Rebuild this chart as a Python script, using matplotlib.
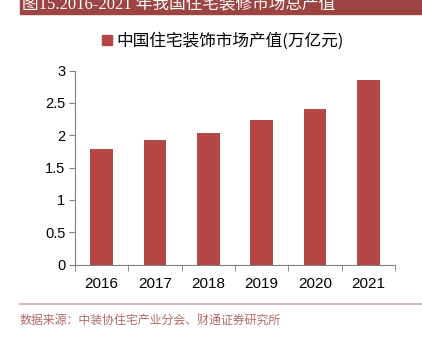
import matplotlib
matplotlib.use("Agg")
import matplotlib.pyplot as plt
from matplotlib.patches import Rectangle
from matplotlib.lines import Line2D

years = ["2016", "2017", "2018", "2019", "2020", "2021"]
output_value = [1.78, 1.92, 2.04, 2.24, 2.41, 2.86]
yticks = [0, 0.5, 1, 1.5, 2, 2.5, 3]
ytick_labels = ["0", "0.5", "1", "1.5", "2", "2.5", "3"]

title_text = "图15.2016-2021 年我国住宅装修市场总产值"
legend_text = "中国住宅装饰市场产值(万亿元)"
source_text = "数据来源：中装协住宅产业分会、财通证券研究所"

BAR_COLOR = "#b34745"
TITLE_BG = "#9c4441"
cjk = ["Noto Sans CJK SC", "DejaVu Sans"]

fig = plt.figure(figsize=(4.22, 3.37), dpi=100)
W, H = 422, 337

# title bar (top cut off as in the source)
fig.patches.append(Rectangle((20 / W, 1 - 14 / H), (W - 20) / W, 14 / H,
                             transform=fig.transFigure, color=TITLE_BG, zorder=0))
fig.text(22 / W, 1 - 4 / H, title_text, color="white", fontsize=12,
         family=["Liberation Serif", "Noto Sans CJK SC"], va="center", ha="left")

# plot area
ax = fig.add_axes([75 / W, 1 - 264.5 / H, 320 / W, 194 / H])
x = range(len(years))
ax.bar(x, output_value, width=0.43, color=BAR_COLOR, zorder=2)
ax.set_xlim(-0.5, len(years) - 0.5)
ax.set_ylim(0, 3)
ax.set_yticks(yticks)
ax.set_yticklabels(ytick_labels, fontsize=10.5, family="Liberation Sans")
ax.set_xticks(list(x))
ax.set_xticklabels(years, fontsize=11, family="Liberation Sans")
ax.set_xticks([i - 0.5 for i in range(len(years) + 1)], minor=True)
ax.tick_params(axis="x", which="major", length=0, pad=9)
ax.tick_params(axis="x", which="minor", length=4, color="#808080", direction="out")
ax.tick_params(axis="y", length=4, color="#808080", direction="out", pad=3)
for s in ["top", "right"]:
    ax.spines[s].set_visible(False)
ax.spines["left"].set_color("#808080")
ax.spines["bottom"].set_color("#808080")

# legend
handle = Line2D([], [], marker="s", linestyle="none", color=BAR_COLOR, markersize=7)
fig.legend([handle], [legend_text], loc="center", bbox_to_anchor=(222 / W, 1 - 41 / H),
           frameon=False, prop={"family": cjk, "size": 12},
           handletextpad=0.2, handlelength=0.8)

# bottom separator and source
fig.add_artist(Line2D([20 / W, 1], [1 - 304 / H, 1 - 304 / H], transform=fig.transFigure,
                      color="#d6a9a7", linewidth=1.2))
fig.text(20 / W, 1 - 320 / H, source_text, color="#b06a66", fontsize=8.6,
         family=cjk, va="center", ha="left")

fig.savefig("out.png", dpi=100)
